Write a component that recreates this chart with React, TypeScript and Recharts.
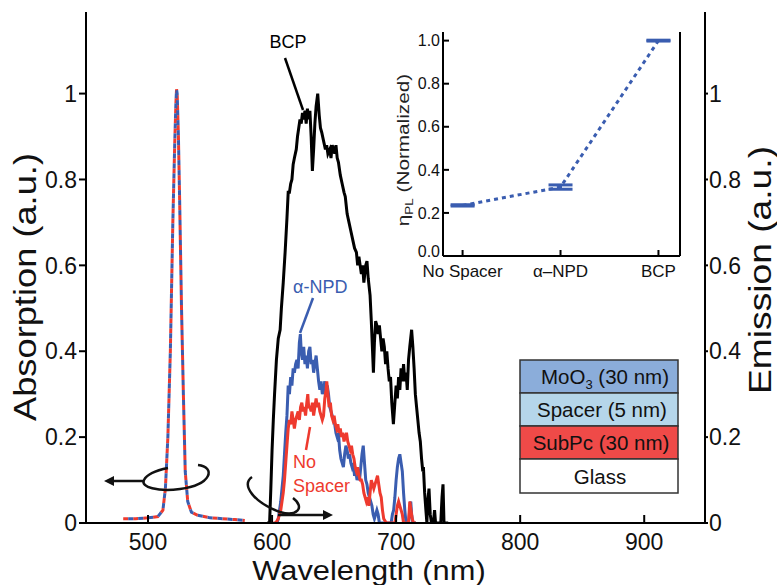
import React from 'react';
import { ComposedChart, LineChart, Line, XAxis, YAxis, ErrorBar } from 'recharts';

// ---------- data ----------
const xTicks = [500, 600, 700, 800, 900];
const yTicks = [0, 0.2, 0.4, 0.6, 0.8, 1];

// absorption (left axis), dashed
const absX = [480, 490, 500, 508, 512, 514, 516, 518, 520, 521.5, 522.5, 523, 523.5, 524.5, 525.5, 527, 528.5, 530, 532, 535, 540, 550, 560, 570, 578];
const absRedY = [0.01, 0.01, 0.012, 0.015, 0.03, 0.08, 0.2, 0.4, 0.7, 0.88, 0.98, 1.01, 1.0, 0.9, 0.75, 0.5, 0.3, 0.12, 0.05, 0.025, 0.018, 0.012, 0.01, 0.008, 0.006];
const absBlueY = [0.01, 0.01, 0.012, 0.015, 0.03, 0.08, 0.2, 0.4, 0.7, 0.88, 0.98, 1.01, 1.0, 0.9, 0.75, 0.5, 0.3, 0.12, 0.05, 0.025, 0.018, 0.012, 0.01, 0.008, 0.006];

// emission (right axis)
const bcpX = [596, 598, 599, 600, 601, 602, 603.5, 605, 606.5, 607.5, 609, 610.5, 612, 613, 614, 615, 616, 617, 618, 619.5, 620.5, 621.5, 622.5, 623.5, 624.5, 625.5, 626.5, 627.5, 628.5, 629.5, 630.5, 631.5, 632.5, 633.5, 634.5, 635.5, 636.8, 638, 639, 640, 641.5, 643, 644, 645, 646.5, 647.5, 648.5, 649.5, 650.5, 651.5, 652.5, 653.5, 655, 656.5, 658, 659, 660.5, 662, 663.5, 665, 666.5, 668, 669, 670, 671, 672, 673, 674, 675.5, 676.5, 677.5, 679, 680, 681, 681.7, 682.5, 683.5, 684.5, 685.5, 686.5, 687.5, 688.5, 689.5, 690.5, 691.5, 692.5, 693.5, 694.5, 695.5, 696.5, 697.8, 699, 700, 701, 702, 703, 704, 705, 706, 707, 708, 709, 710, 711, 712.5, 713.5, 714.5, 715.5, 716.5, 717.5, 718.5, 719.5, 720.5, 721.5, 722, 723, 724, 724.8, 725.5, 726.5, 727.5, 728.5, 730, 731, 731.8, 733, 736, 737, 737.8, 738.6, 742];
const bcpY = [0, 0, 0.08, 0.17, 0.24, 0.3, 0.38, 0.43, 0.45, 0.5, 0.56, 0.63, 0.71, 0.77, 0.77, 0.79, 0.8, 0.835, 0.85, 0.87, 0.9, 0.92, 0.94, 0.93, 0.955, 0.94, 0.96, 0.93, 0.965, 0.94, 0.96, 0.9, 0.82, 0.87, 0.93, 0.97, 1.0, 0.95, 0.92, 0.91, 0.89, 0.87, 0.88, 0.86, 0.87, 0.85, 0.88, 0.87, 0.86, 0.88, 0.85, 0.84, 0.81, 0.79, 0.77, 0.76, 0.72, 0.7, 0.68, 0.66, 0.64, 0.63, 0.6, 0.62, 0.6, 0.58, 0.6, 0.56, 0.6, 0.61, 0.57, 0.53, 0.47, 0.4, 0.35, 0.42, 0.47, 0.46, 0.44, 0.46, 0.43, 0.4, 0.43, 0.41, 0.37, 0.4, 0.36, 0.33, 0.34, 0.28, 0.23, 0.28, 0.32, 0.29, 0.34, 0.31, 0.36, 0.33, 0.37, 0.33, 0.35, 0.31, 0.38, 0.41, 0.45, 0.41, 0.36, 0.3, 0.27, 0.24, 0.21, 0.19, 0.15, 0.12, 0.13, 0.07, 0.03, 0, 0.05, 0.08, 0.02, 0, 0, 0.03, 0, 0, 0, 0.06, 0.09, 0, 0];

const npdX = [602, 604, 605, 606, 607, 608, 609, 610, 611, 612, 613, 614, 615, 616, 617, 618, 619, 620, 621, 622, 622.8, 623.5, 624.5, 625.5, 626.5, 627.5, 628.5, 629.5, 630.5, 631.5, 632.5, 633.5, 634.5, 635.5, 636.5, 637.5, 638.5, 639.5, 640.5, 641.5, 642.5, 643.5, 644.5, 645.5, 646.5, 647.5, 648.5, 649.5, 650.5, 651.5, 652.5, 653.5, 654.5, 655.5, 656.5, 657.5, 658.5, 659.5, 660.5, 661.5, 662.5, 663.5, 664.5, 665.5, 666.5, 667.5, 668.5, 669.5, 670.5, 671.5, 672.5, 673.5, 674.5, 675.5, 676.5, 677.5, 678.5, 679.5, 680.5, 681.5, 682.5, 683.5, 684.5, 685.5, 686.5, 690, 694, 696, 697, 698, 699, 700, 701, 702, 703, 704, 705, 706, 707, 708, 710, 711, 711.8, 712.5, 713.5, 716];
const npdY = [0, 0, 0.01, 0.03, 0.05, 0.08, 0.11, 0.16, 0.21, 0.25, 0.32, 0.3, 0.34, 0.32, 0.36, 0.35, 0.37, 0.38, 0.36, 0.42, 0.44, 0.4, 0.38, 0.41, 0.37, 0.39, 0.36, 0.4, 0.41, 0.37, 0.38, 0.35, 0.37, 0.39, 0.36, 0.33, 0.31, 0.33, 0.3, 0.31, 0.33, 0.3, 0.32, 0.3, 0.27, 0.26, 0.25, 0.24, 0.23, 0.21, 0.2, 0.21, 0.17, 0.15, 0.14, 0.13, 0.16, 0.18, 0.17, 0.15, 0.16, 0.14, 0.13, 0.14, 0.11, 0.12, 0.1, 0.11, 0.1, 0.13, 0.16, 0.18, 0.14, 0.1, 0.09, 0.07, 0.06, 0.05, 0.04, 0.02, 0.01, 0.02, 0.03, 0.02, 0, 0, 0, 0, 0.02, 0.03, 0.06, 0.1, 0.13, 0.15, 0.16, 0.14, 0.12, 0.07, 0.03, 0, 0, 0.03, 0.05, 0.02, 0, 0];

const noSpX = [601, 603, 604, 605, 606, 607, 608, 609, 610, 611, 612, 613, 614, 615, 616, 617, 618, 619, 620, 621, 622, 623, 624, 625, 626, 627, 628, 628.8, 629.5, 630.5, 631.5, 632.5, 633.5, 634.5, 635.5, 636.5, 637.5, 638.5, 639.5, 640.5, 641.5, 642.5, 643.5, 644.1, 645, 646, 647, 648, 649, 650, 651, 652, 653, 654, 655, 656, 657, 658, 659, 660, 661, 662, 663, 664, 665, 666, 667, 668, 669, 670, 671, 672, 673, 674, 675, 676, 677, 678, 679, 680, 681, 682, 683, 684, 685, 686, 687, 688, 689, 690, 691, 692, 699, 700, 701, 702, 703, 704, 705, 706, 710, 711, 712, 713, 714, 716];
const noSpY = [0, 0, 0.005, 0.01, 0.02, 0.03, 0.05, 0.07, 0.1, 0.14, 0.18, 0.22, 0.24, 0.23, 0.26, 0.24, 0.22, 0.24, 0.25, 0.26, 0.24, 0.27, 0.28, 0.26, 0.27, 0.25, 0.28, 0.3, 0.27, 0.27, 0.26, 0.28, 0.25, 0.27, 0.29, 0.27, 0.28, 0.26, 0.25, 0.24, 0.25, 0.29, 0.31, 0.33, 0.3, 0.27, 0.28, 0.25, 0.24, 0.25, 0.23, 0.22, 0.23, 0.21, 0.22, 0.2, 0.21, 0.19, 0.2, 0.21, 0.19, 0.18, 0.17, 0.18, 0.16, 0.15, 0.13, 0.12, 0.13, 0.11, 0.1, 0.1, 0.09, 0.07, 0.06, 0.05, 0.06, 0.04, 0.07, 0.1, 0.09, 0.08, 0.09, 0.1, 0.11, 0.09, 0.07, 0.06, 0.03, 0.01, 0.005, 0, 0, 0.02, 0.04, 0.05, 0.04, 0.03, 0.02, 0, 0, 0.05, 0.03, 0.01, 0, 0];

// inset
const insetCats = ['No Spacer', 'α–NPD', 'BCP'];
const insetVals = [0.235, 0.32, 1.0];
const insetErr = [0.003, 0.01, 0.002];
const insetYTicks = [0, 0.2, 0.4, 0.6, 0.8, 1.0];

// device stack legend
const stackLabels = ['MoO', 'Spacer (5 nm)', 'SubPc (30 nm)', 'Glass'];

// ---------- build ----------
const zip = (xs: number[], ys: number[]) => xs.map((x, i) => ({ x, y: ys[i] }));
const absRed = zip(absX, absRedY);
const absBlue = zip(absX, absBlueY);
const bcp = zip(bcpX, bcpY);
const npd = zip(npdX, npdY);
const noSp = zip(noSpX, noSpY);
const insetData = insetVals.map((v, i) => ({ x: i, y: v, err: insetErr[i] }));

const FONT = '"Liberation Sans", Arial, Helvetica, sans-serif';
const RED = '#ee3a2e';
const BLUE = '#3a5db0';
const YMAX = 1.19;
const XDOM: [number, number] = [450, 949];

const fmtMain = (v: number) => (v === 0 ? '0' : v === 1 ? '1' : String(v));

const InsetYTick = (props: any) => {
  const { x, y, payload } = props;
  const v = payload.value as number;
  const shift = v === 0 ? -5 : 0;
  return (
    <text x={x} y={y + shift} dy="0.355em" textAnchor="end" fontSize={16} fill="#111" fontFamily={FONT}>
      {v.toFixed(1)}
    </text>
  );
};

export default function App() {
  return (
    <div style={{ position: 'absolute', left: 0, top: 0, width: 777, height: 585, background: '#fff', fontFamily: FONT, overflow: 'hidden' }}>
      <div style={{ position: 'absolute', left: 0, top: 0 }}>
        <ComposedChart width={777} height={585} margin={{ top: 12, right: 0, bottom: 0, left: 0 }}>
          <XAxis xAxisId="b" dataKey="x" type="number" domain={XDOM} ticks={xTicks} allowDataOverflow
            height={62} tickSize={-8} tickMargin={19} stroke="#000" strokeWidth={2}
            tick={{ fill: '#111', fontSize: 23, fontFamily: FONT }} />
          <XAxis xAxisId="t" dataKey="x" type="number" domain={XDOM} ticks={xTicks} orientation="top" allowDataOverflow
            height={0} tickSize={-8} tick={false} stroke="#000" strokeWidth={2} />
          <YAxis yAxisId="left" type="number" domain={[0, YMAX]} ticks={yTicks} width={86} tickSize={7} tickMargin={2}
            tickFormatter={fmtMain} stroke="#000" strokeWidth={2} allowDataOverflow
            tick={{ fill: '#111', fontSize: 23, fontFamily: FONT }} />
          <YAxis yAxisId="right" orientation="right" type="number" domain={[0, YMAX]} ticks={yTicks} width={72} tickSize={3} tickMargin={1}
            tickFormatter={fmtMain} stroke="#000" strokeWidth={2} allowDataOverflow
            tick={{ fill: '#111', fontSize: 23, fontFamily: FONT }} />
          <Line xAxisId="b" yAxisId="left" data={absRed} dataKey="y" stroke={RED} strokeWidth={3} strokeDasharray="5 5" dot={false} isAnimationActive={false} />
          <Line xAxisId="b" yAxisId="left" data={absBlue} dataKey="y" stroke={BLUE} strokeWidth={3} strokeDasharray="5 5" strokeDashoffset={5} dot={false} isAnimationActive={false} />
          <Line xAxisId="b" yAxisId="right" data={bcp} dataKey="y" stroke="#000" strokeWidth={3} dot={false} isAnimationActive={false} type="linear" />
          <Line xAxisId="b" yAxisId="right" data={npd} dataKey="y" stroke={BLUE} strokeWidth={3} dot={false} isAnimationActive={false} type="linear" />
          <Line xAxisId="b" yAxisId="right" data={noSp} dataKey="y" stroke={RED} strokeWidth={3} dot={false} isAnimationActive={false} type="linear" />
        </ComposedChart>
      </div>

      <div style={{ position: 'absolute', left: 370, top: 20 }}>
        <LineChart width={320} height={290} data={insetData} margin={{ top: 12, right: 0, bottom: 0, left: 0 }}>
          <XAxis xAxisId="b" dataKey="x" type="number" domain={[-0.2, 2.22]} ticks={[0, 1, 2]} height={54}
            tickFormatter={(i: number) => insetCats[i]} tickSize={-6} tickMargin={15} stroke="#000" strokeWidth={2}
            tick={{ fill: '#111', fontSize: 17, fontFamily: FONT }} interval={0} />
          <XAxis xAxisId="t" dataKey="x" type="number" domain={[-0.2, 2.22]} ticks={[0, 1, 2]} orientation="top" height={0}
            tickSize={-6} tick={false} stroke="#000" strokeWidth={2} />
          <YAxis yAxisId="l" type="number" domain={[0, 1.04]} ticks={insetYTicks} width={73} tickSize={-6} tickMargin={9}
            stroke="#000" strokeWidth={2} tick={<InsetYTick />} />
          <YAxis yAxisId="r" orientation="right" type="number" domain={[0, 1.04]} ticks={insetYTicks} width={10} tickSize={-6}
            tick={false} stroke="#000" strokeWidth={2} />
          <Line xAxisId="b" yAxisId="l" dataKey="y" stroke={BLUE} strokeWidth={3} strokeDasharray="4 4" dot={false} isAnimationActive={false}>
            <ErrorBar dataKey="err" width={12} strokeWidth={3} stroke={BLUE} direction="y" />
          </Line>
        </LineChart>
      </div>

      <svg width={777} height={585} style={{ position: 'absolute', left: 0, top: 0, pointerEvents: 'none' }} fontFamily={FONT}>
        {/* axis titles */}
        <text x={0} y={0} transform="translate(36,287) rotate(-90) scale(1.17,1)" textAnchor="middle" fontSize={31} fill="#111">Absorption (a.u.)</text>
        <text x={0} y={0} transform="translate(771,270) rotate(-90) scale(1.2,1)" textAnchor="middle" fontSize={31} fill="#111">Emission (a.u.)</text>
        <text x={0} y={0} transform="translate(369,580) scale(1.1,1)" textAnchor="middle" fontSize={28} fill="#111">Wavelength (nm)</text>

        {/* inset y title */}
        <text transform="translate(409,150) rotate(-90) scale(1.22,1)" textAnchor="middle" fontSize={17} fill="#222">
          η<tspan fontSize={11} dy={4}>PL</tspan><tspan dy={-4}> (Normalized)</tspan>
        </text>

        {/* curve labels */}
        <text x={288} y={48} textAnchor="middle" fontSize={18} fill="#000">BCP</text>
        <line x1={285} y1={58} x2={303} y2={110} stroke="#000" strokeWidth={2.5} />
        <text x={293} y={293} fontSize={18} fill={BLUE}>α-NPD</text>
        <line x1={313} y1={298} x2={300} y2={333} stroke={BLUE} strokeWidth={2.5} />
        <text x={293} y={468} fontSize={18} fill={RED}>No</text>
        <text x={293} y={492} fontSize={18} fill={RED}>Spacer</text>
        <line x1={310} y1={427} x2={306} y2={450} stroke={RED} strokeWidth={2.5} />

        {/* rotation arrows */}
        <path d="M 198 465 C 216 467, 212 485, 180 489 C 158 492, 140 487, 144 480 C 147 474, 158 470, 168 468" fill="none" stroke="#111" strokeWidth={2.5} />
        <line x1={144} y1={481} x2={112} y2={481} stroke="#111" strokeWidth={2.5} />
        <polygon points="104,481 114,476 114,486" fill="#111" />
        <path d="M 252 477 C 240 485, 255 503, 280 512 C 296 517, 306 508, 293 498" fill="none" stroke="#111" strokeWidth={2.5} />
        <line x1={278} y1={515} x2={325} y2={515} stroke="#111" strokeWidth={2.5} />
        <polygon points="333,515 323,510 323,520" fill="#111" />

        {/* device stack */}
        <rect x={520} y={360} width={158} height={33} fill="#8badda" stroke="#333" strokeWidth={1.5} />
        <rect x={520} y={393} width={158} height={33} fill="#b5d6ea" stroke="#333" strokeWidth={1.5} />
        <rect x={520} y={426} width={158} height={33} fill="#ef4a48" stroke="#333" strokeWidth={1.5} />
        <rect x={520} y={459} width={158} height={34} fill="#ffffff" stroke="#333" strokeWidth={1.5} />
        <text x={605} y={384} textAnchor="middle" fontSize={20.5} fill="#111">
          {stackLabels[0]}<tspan fontSize={13} dy={5}>3</tspan><tspan dy={-5}> (30 nm)</tspan>
        </text>
        <text x={602} y={417} textAnchor="middle" fontSize={20.5} fill="#111">{stackLabels[1]}</text>
        <text x={601} y={450} textAnchor="middle" fontSize={20.5} fill="#111">{stackLabels[2]}</text>
        <text x={600} y={484} textAnchor="middle" fontSize={20.5} fill="#111">{stackLabels[3]}</text>
      </svg>
    </div>
  );
}
